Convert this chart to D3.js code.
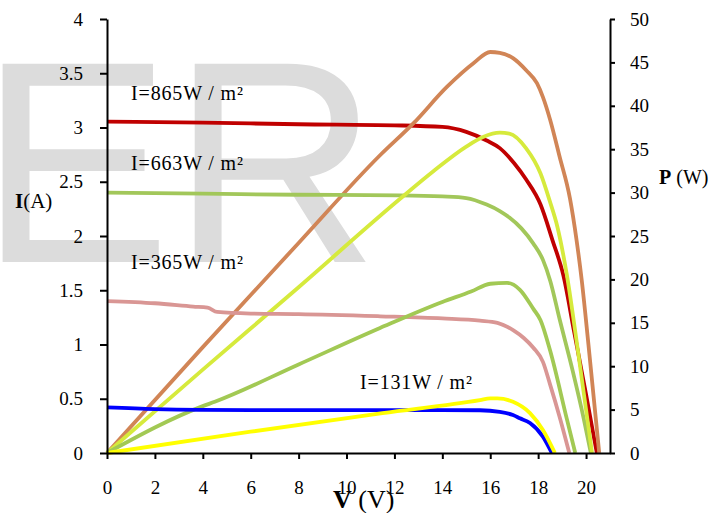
<!DOCTYPE html>
<html>
<head>
<meta charset="utf-8">
<script src="https://cdn.jsdelivr.net/npm/d3@7"></script>
<style>
  body { margin: 0; background: #fff; }
  svg { display: block; }
  .axis text { font-family: 'Liberation Serif', 'Times New Roman', serif; font-size: 19px; fill: #000; }
  .axis path, .axis line { stroke: #000; stroke-width: 2; }
</style>
</head>
<body>
<div id="chart"></div>
<script>
// tick labels
var xTicks = [0, 2, 4, 6, 8, 10, 12, 14, 16, 18, 20];
var iTicks = [0, 0.5, 1, 1.5, 2, 2.5, 3, 3.5, 4];
var pTicks = [0, 5, 10, 15, 20, 25, 30, 35, 40, 45, 50];
var irradiance = ['I=865W / m²', 'I=663W / m²', 'I=365W / m²', 'I=131W / m²'];

// 865 W/m2
var v865I = [0, 4, 8, 12, 14, 15, 15.85, 16.4, 17, 17.5, 18.1, 18.6, 19.05, 19.5, 20, 20.45];
var i865 = [3.055, 3.045, 3.03, 3.02, 3.005, 2.96, 2.88, 2.81, 2.67, 2.52, 2.29, 1.96, 1.64, 1.12, 0.54, 0];
var v865P = [0, 4, 8, 11.4, 12.8, 14.2, 15.3, 16.0, 16.4, 16.95, 17.5, 17.95, 18.2, 18.5, 18.9, 19.33, 19.6, 19.82, 20.1, 20.55];
var p865 = [0, 12.2, 24.2, 34.3, 38.0, 42.2, 44.9, 46.2, 46.1, 45.5, 44.1, 42.6, 41.0, 38.4, 34.1, 29.3, 24.6, 19.9, 12.5, 0];

// 663 W/m2
var v663I = [0, 4, 8, 12.2, 14, 15, 15.85, 16.4, 16.8, 17.3, 17.8, 18.2, 18.5, 18.9, 19.45, 19.9, 20.2];
var i663 = [2.40, 2.39, 2.38, 2.375, 2.365, 2.35, 2.29, 2.23, 2.17, 2.07, 1.93, 1.78, 1.59, 1.23, 0.75, 0.32, 0];
var v663P = [0, 4, 8, 12.2, 13.6, 15.0, 15.7, 16.4, 16.8, 17.5, 18.1, 18.5, 18.8, 19.2, 19.7, 20.25];
var p663 = [0, 9.6, 19.1, 29.2, 32.4, 35.3, 36.4, 36.9, 36.8, 35.1, 32.2, 28.9, 26.1, 20.5, 11, 0];

// 365 W/m2
var v365I = [0, 2, 3.6, 4.2, 4.6, 6, 8, 11.4, 14, 15.57, 16.3, 16.97, 17.4, 17.8, 18.2, 18.5, 18.9, 19.3];
var i365 = [1.40, 1.38, 1.35, 1.34, 1.30, 1.285, 1.28, 1.26, 1.24, 1.22, 1.20, 1.13, 1.06, 0.97, 0.84, 0.63, 0.33, 0];
var v365P = [0, 4, 4.5, 8, 11.4, 14, 15.2, 16.0, 16.7, 17.24, 17.8, 18.1, 18.5, 19.2, 19.55];
var p365 = [0, 5.4, 5.9, 10.2, 14.4, 17.4, 18.6, 19.5, 19.6, 18.8, 16.6, 15.3, 11.8, 3.9, 0];

// 131 W/m2
var v131I = [0, 2, 6, 10, 14, 15.57, 16.4, 16.95, 17.24, 17.66, 18.2, 18.57];
var i131 = [0.42, 0.405, 0.396, 0.395, 0.395, 0.394, 0.38, 0.35, 0.32, 0.276, 0.15, 0];
var v131P = [0, 6, 11.5, 15.57, 16.0, 16.3, 16.95, 17.66, 18.2, 18.7];
var p131 = [0, 2.45, 4.6, 6.1, 6.3, 6.3, 5.9, 4.6, 2.65, 0];

(function(){
  'use strict';

  var width = 726, height = 513;
  var left = 107, right = 610, top = 19, bottom = 453;

  var svg = d3.select('#chart')
    .append('svg')
    .attr('width', width)
    .attr('height', height);

  // grey watermark behind everything
  svg.append('text')
    .attr('x', -21)
    .attr('y', 262)
    .style('font-family', "'Liberation Sans', Arial, sans-serif")
    .style('font-size', '288px')
    .style('fill', '#dcdcdc')
    .text('ER');

  var x = d3.scaleLinear().domain([0, 21]).range([left, right]);
  var yI = d3.scaleLinear().domain([0, 4]).range([bottom, top]);
  var yP = d3.scaleLinear().domain([0, 50]).range([bottom, top]);

  // series: voltages, values, which axis, colour
  var series = [
    { v: v865I, d: i865, y: yI, color: '#c00000' },
    { v: v865P, d: p865, y: yP, color: '#d18556' },
    { v: v663I, d: i663, y: yI, color: '#a2c75a' },
    { v: v663P, d: p663, y: yP, color: '#d6ea3c' },
    { v: v365I, d: i365, y: yI, color: '#d99694' },
    { v: v365P, d: p365, y: yP, color: '#a2c954' },
    { v: v131I, d: i131, y: yI, color: '#0000ff' },
    { v: v131P, d: p131, y: yP, color: '#ffff00' }
  ];

  series.forEach(function(s) {
    var line = d3.line()
      .x(function(d, i) { return x(s.v[i]); })
      .y(function(d) { return s.y(d); })
      .curve(d3.curveMonotoneX);
    svg.append('path')
      .datum(s.d)
      .attr('d', line)
      .attr('fill', 'none')
      .attr('stroke', s.color)
      .attr('stroke-width', 3.8)
      .attr('stroke-linejoin', 'round');
  });

  // axes
  svg.append('g')
    .attr('class', 'axis')
    .attr('transform', 'translate(0,' + bottom + ')')
    .call(d3.axisBottom(x).tickValues(xTicks).tickSize(6).tickSizeOuter(0).tickPadding(22));

  svg.append('g')
    .attr('class', 'axis')
    .attr('transform', 'translate(' + left + ',0)')
    .call(d3.axisLeft(yI).tickValues(iTicks).tickSize(7).tickSizeOuter(0).tickPadding(17)
      .tickFormat(d3.format('')));

  svg.append('g')
    .attr('class', 'axis')
    .attr('transform', 'translate(' + right + ',0)')
    .call(d3.axisRight(yP).tickValues(pTicks).tickSize(5).tickSizeOuter(0).tickPadding(15));

  // axis titles
  var serif = "'Liberation Serif', 'Times New Roman', serif";

  svg.append('text').attr('x', 15).attr('y', 207.5)
    .style('font-family', serif).style('font-size', '21px')
    .html('<tspan font-weight="bold">I</tspan>(A)');

  svg.append('text').attr('x', 659).attr('y', 184)
    .style('font-family', serif).style('font-size', '20px')
    .html('<tspan font-weight="bold">P</tspan> (W)');

  svg.append('text').attr('x', 333).attr('y', 508)
    .style('font-family', serif).style('font-size', '26px')
    .html('<tspan font-weight="bold">V</tspan> (V)');

  // irradiance labels
  var labelPos = [[131, 100], [131, 170], [131, 269], [360, 389]];
  svg.selectAll('.irr')
    .data(irradiance).enter()
    .append('text')
    .attr('class', 'irr')
    .attr('x', function(d, i) { return labelPos[i][0]; })
    .attr('y', function(d, i) { return labelPos[i][1]; })
    .attr('textLength', 112)
    .attr('lengthAdjust', 'spacing')
    .style('font-family', serif)
    .style('font-size', '20px')
    .text(function(d) { return d; });

})();
</script>
</body>
</html>
